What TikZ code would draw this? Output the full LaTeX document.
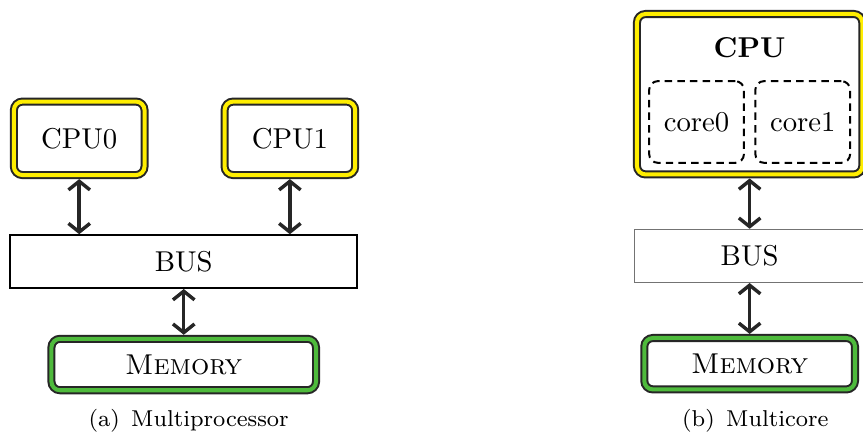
\documentclass[tikz,border=0pt]{standalone}
\usepackage{tikz}
\usetikzlibrary{arrows.meta}

\definecolor{cpuyellow}{RGB}{255,238,0}
\definecolor{memgreen}{RGB}{78,186,60}

\begin{document}
\begin{tikzpicture}[
    every node/.append style={rounded corners=3pt,inner sep=0pt},
    cpubox/.style={draw=black!85,line width=0.7pt,double=cpuyellow,
        double distance=1.4pt,fill=white,outer sep=1.4pt},
    membox/.style={draw=black!85,line width=0.7pt,double=memgreen,
        double distance=1.4pt,fill=white,outer sep=1.4pt,
        minimum height=0.63cm},
    busbox/.style={draw,sharp corners,line width=0.6pt,minimum height=0.65cm},
    corebox/.style={draw,line width=0.7pt,dash pattern=on 2.6pt off 1.8pt,
        minimum width=1.16cm,minimum height=1.0cm},
    caption/.style={anchor=base,font=\footnotesize},
    link/.style={{Straight Barb[length=3pt,width=7.5pt]}-{Straight Barb[length=3pt,width=7.5pt]},
        line width=1.2pt,black!85}]
    \useasboundingbox (0,0) rectangle (10.568,5.314);

    % (a) multiprocessor
    \node[cpubox,minimum width=1.6cm,minimum height=0.9cm] (cpu0) at (0.97,3.62) {CPU0};
    \node[cpubox,minimum width=1.6cm,minimum height=0.9cm] (cpu1) at (3.55,3.62) {CPU1};
    \node[busbox,minimum width=4.25cm] (bus) at (2.25,2.11) {BUS};
    \node[membox,minimum width=3.24cm] (mem) at (2.25,0.85) {\textsc{Memory}};
    \node[caption] (capa) at (2.31,0.09) {(a)\enspace Multiprocessor};

    % (b) multicore
    \node[cpubox,minimum width=2.76cm,minimum height=1.965cm] (cpu) at (9.18,4.16) {};
    \node[font=\bfseries] (cpulabel) at (9.18,4.73) {CPU};
    \node[corebox] (core0) at (8.53,3.82) {core0};
    \node[corebox] (core1) at (9.83,3.82) {core1};
    \node[busbox,draw=black!55,line width=0.4pt,minimum width=2.82cm] (bus2) at (9.18,2.18) {BUS};
    \node[membox,minimum width=2.58cm] (mem2) at (9.18,0.86) {\textsc{Memory}};
    \node[caption] (capb) at (9.25,0.09) {(b)\enspace Multicore};

    \path[link]
        (cpu0) edge (cpu0 |- bus.north)
        (cpu1) edge (cpu1 |- bus.north)
        (bus) edge (mem)
        (cpu) edge (bus2)
        (bus2) edge (mem2);
\end{tikzpicture}
\end{document}
